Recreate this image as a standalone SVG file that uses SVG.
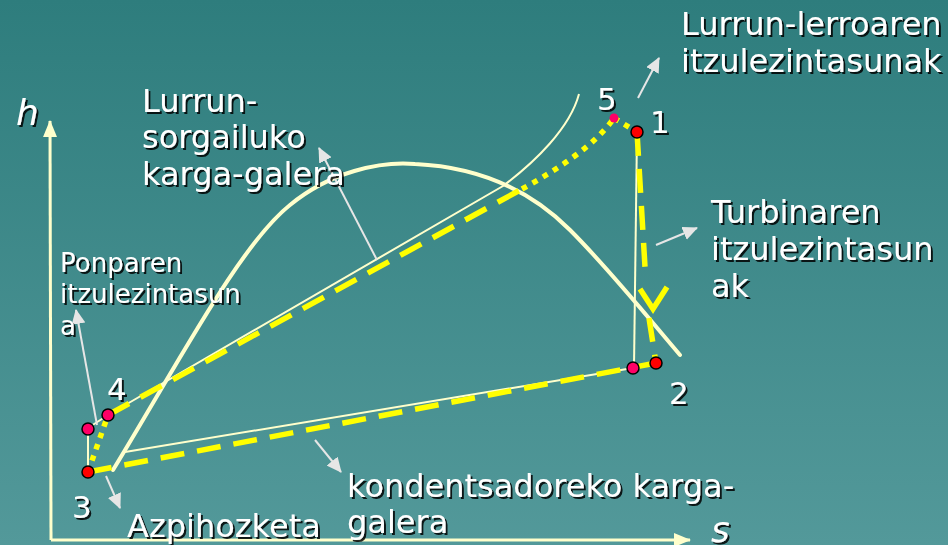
<svg xmlns="http://www.w3.org/2000/svg" width="948" height="545" viewBox="0 0 948 545">
<defs>
<linearGradient id="bg" x1="0" y1="0" x2="0" y2="1">
<stop offset="0" stop-color="#2e7d7d"/>
<stop offset="1" stop-color="#53999a"/>
</linearGradient>
<filter id="sh" x="-5%" y="-20%" width="110%" height="140%">
<feDropShadow dx="2" dy="2" stdDeviation="0.6" flood-color="#000" flood-opacity="0.85"/>
</filter>
<marker id="ptr" markerUnits="userSpaceOnUse" markerWidth="16" markerHeight="14" refX="14" refY="7" orient="auto">
<path d="M0,0 L15,7 L0,14 Z" fill="#e6e6e6"/>
</marker>
<marker id="ax" markerUnits="userSpaceOnUse" markerWidth="18" markerHeight="14" refX="16" refY="7" orient="auto">
<path d="M0,0 L17,7 L0,14 Z" fill="#ffffcc"/>
</marker>
<style>
.t{font-family:"DejaVu Sans","Verdana",sans-serif;font-size:32px;fill:#ffffff;filter:url(#sh)}
.s{font-size:26px}
.n{font-size:31px}
.i{font-style:italic;font-size:36px}
.thick{fill:none;stroke:#ffffcc;stroke-width:4;stroke-linecap:round}
.thin{fill:none;stroke:#ffffcc;stroke-width:2}
.dash{fill:none;stroke:#ffff00;stroke-width:5.5;stroke-dasharray:24 13}
.dot{fill:none;stroke:#ffff00;stroke-width:5.5;stroke-dasharray:5.5 6.5}
.ptr{fill:none;stroke:#e6e6e6;stroke-width:2;marker-end:url(#ptr)}
.red{fill:#ff0000;stroke:#000;stroke-width:1.5}
.pink{fill:#ff0066;stroke:#000;stroke-width:1.5}
</style>
</defs>
<rect width="948" height="545" fill="url(#bg)"/>

<g id="axes">
<line x1="51" y1="540" x2="50" y2="121" stroke="#ffffcc" stroke-width="3" marker-end="url(#ax)"/>
<line x1="51" y1="540" x2="690" y2="540" stroke="#ffffcc" stroke-width="3" marker-end="url(#ax)"/>
</g>

<g id="connectors">
<path class="thick" d="M113,470 C180,360 240,245 290,205 C330,172 380,161 415,164 C480,167 530,190 570,230 C610,270 650,320 680,355"/>
<path class="thin" d="M88,428 L108,415 L503,186 C535,162 570,128 579,94"/>
<line class="thin" x1="637" y1="132" x2="634" y2="367"/>
<line class="thin" x1="633" y1="368" x2="125" y2="452"/>
<line class="thin" x1="88" y1="472" x2="88" y2="428"/>
<line class="dash" x1="88" y1="472" x2="656" y2="363"/>
<line class="dash" x1="108" y1="415" x2="522" y2="189"/>
<path class="dot" d="M522,189 C560,168 595,145 614,118"/>
<line class="dot" x1="614" y1="118" x2="637" y2="132"/>
<line class="dash" x1="637" y1="132" x2="645" y2="267" stroke-dasharray="20 14"/>
<line class="dash" x1="649" y1="318" x2="656" y2="363" stroke-dasharray="22 14"/>
<path d="M640,289 L653,309 L667,287" fill="none" stroke="#ffff00" stroke-width="5.5"/>
<line class="dot" x1="88" y1="472" x2="108" y2="415"/>
<line class="ptr" x1="638" y1="98" x2="659" y2="58"/>
<line class="ptr" x1="377" y1="260" x2="319" y2="148"/>
<line class="ptr" x1="656" y1="245" x2="697" y2="228"/>
<line class="ptr" x1="97" y1="425" x2="76" y2="310"/>
<line class="ptr" x1="315" y1="440" x2="341" y2="472"/>
<line class="ptr" x1="106" y1="476" x2="120" y2="508"/>
</g>

<g id="p1"><circle class="red" cx="637" cy="132" r="6"/><text class="t n" x="650" y="133">1</text></g>
<g id="p2"><circle class="red" cx="656" cy="363" r="6"/><text class="t n" x="669" y="404">2</text></g>
<g id="p2s"><circle class="pink" cx="633" cy="368" r="6"/></g>
<g id="p3"><circle class="red" cx="88" cy="472" r="6"/><text class="t n" x="72" y="518">3</text></g>
<g id="p4"><circle class="pink" cx="108" cy="415" r="6"/><text class="t n" x="107" y="400">4</text></g>
<g id="p4s"><circle class="pink" cx="88" cy="429" r="6"/></g>
<g id="p5"><circle cx="614" cy="118" r="4.5" fill="#ff0066"/><text class="t n" x="597" y="110">5</text></g>

<g id="lbl-h"><text class="t i" x="16" y="125">h</text></g>
<g id="lbl-s"><text class="t i" x="711" y="542">s</text></g>
<g id="lbl-lerro"><text class="t" x="681" y="35">Lurrun-lerroaren</text><text class="t" x="681" y="72">itzulezintasunak</text></g>
<g id="lbl-sorg"><text class="t" x="142" y="112">Lurrun-</text><text class="t" x="142" y="148">sorgailuko</text><text class="t" x="142" y="185">karga-galera</text></g>
<g id="lbl-turb"><text class="t" x="711" y="223">Turbinaren</text><text class="t" x="711" y="260">itzulezintasun</text><text class="t" x="711" y="297">ak</text></g>
<g id="lbl-ponp"><text class="t s" x="60" y="272">Ponparen</text><text class="t s" x="60" y="303">itzulezintasun</text><text class="t s" x="60" y="335">a</text></g>
<g id="lbl-kond"><text class="t" x="347" y="497">kondentsadoreko karga-</text><text class="t" x="347" y="533">galera</text></g>
<g id="lbl-azpi"><text class="t" x="127" y="537">Azpihozketa</text></g>
</svg>
